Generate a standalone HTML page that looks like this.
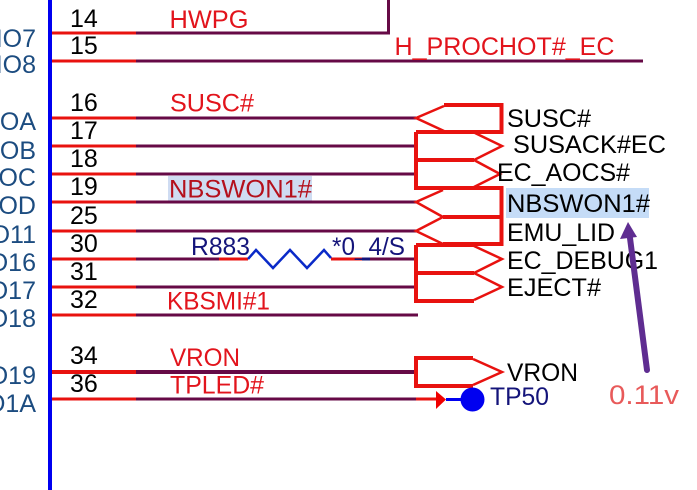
<!DOCTYPE html>
<html>
<head>
<meta charset="utf-8">
<style>
html,body{margin:0;padding:0;background:#fff}
svg{display:block}
text{font-family:"Liberation Sans",sans-serif;font-size:25px}
.n{fill:#000}
.r{fill:#e2141c}
.k{fill:#000}
.l{fill:#1c4c80}
.b{fill:#14147a}
</style>
</head>
<body>
<svg width="697" height="490" viewBox="0 0 697 490" xmlns="http://www.w3.org/2000/svg">
<rect width="697" height="490" fill="#fff"/>
<!-- highlights -->
<rect x="168" y="176" width="144" height="27" fill="#cfdcf2"/>
<rect x="506" y="188" width="143" height="30" fill="#c5dcf7"/>

<!-- purple wires -->
<g fill="none" stroke="#660a46" stroke-width="3">
<path d="M136 33H388.500V0"/>
<path d="M136 61H643"/>
<path d="M136 118H416"/>
<path d="M136 146H416"/>
<path d="M136 174H416"/>
<path d="M136 202H416"/>
<path d="M136 231H416"/>
<path d="M136 259H219"/>
<path d="M370 259H416"/>
<path d="M136 287H416"/>
<path d="M136 315H418"/>
<path d="M136 372H416" stroke-width="4"/>
<path d="M136 399H416"/>
</g>
<!-- red pin stubs -->
<g fill="none" stroke="#e8120f" stroke-width="3">
<path d="M48 33H136M48 61H136M48 118H136M48 146H136M48 174H136M48 202H136M48 231H136"/>
<path d="M48 259H136M48 287H136M48 315H136M48 399H136"/>
<path d="M48 372H136" stroke-width="4"/>
<path d="M219 259H248M331 259H362M416 399H436"/>
</g>
<path d="M362 259H370" stroke="#14147a" stroke-width="3"/>
<!-- bus -->
<rect x="48" y="0" width="4" height="490" fill="#0000f0"/>

<!-- resistor -->
<path d="M248 259L256 250L273 268L290 250L307 268L324 250L331 258" fill="none" stroke="#0a2ac8" stroke-width="2.500"/>

<!-- off-page connectors: thin diagonals -->
<g fill="none" stroke="#e8120f" stroke-width="2.500">
<path d="M444 106L416 118L444 131"/>
<path d="M475 133L502 146L474 160L500 174L474 187"/>
<path d="M443 190L416 202L443 217L416 231L443 244"/>
<path d="M474 246L502 259L474 273L502 287L474 300"/>
<path d="M473 359L502 372L473 385"/>
</g>
<!-- off-page connectors: thick edges -->
<g fill="none" stroke="#e8120f" stroke-width="4">
<path d="M444 105H501.500V132H416"/>
<path d="M416 132V188H501.500V244H443"/>
<path d="M416 160H474"/>
<path d="M443 217H501.500"/>
<path d="M416 245H474M416 245V301H474M416 273H474"/>
<path d="M473 358H416V386H473"/>
</g>

<!-- test point -->
<path d="M436 391V409L446 399.500Z" fill="#f00000"/>
<path d="M446 399.500H462" stroke="#0000f0" stroke-width="3"/>
<circle cx="472.500" cy="399.500" r="12" fill="#0000f0"/>

<!-- left labels -->
<g class="l" text-anchor="end">
<text x="36" y="47" class="l">GPIO7</text>
<text x="36" y="73" class="l">GPIO8</text>
<text x="36" y="130" class="l">GPIOA</text>
<text x="36" y="159" class="l">GPIOB</text>
<text x="36" y="186" class="l">GPIOC</text>
<text x="36" y="214" class="l">GPIOD</text>
<text x="36" y="243" class="l">GPIO11</text>
<text x="36" y="271" class="l">GPIO16</text>
<text x="36" y="299" class="l">GPIO17</text>
<text x="36" y="327" class="l">GPIO18</text>
<text x="36" y="384" class="l">GPIO19</text>
<text x="36" y="412" class="l">GPIO1A</text>
</g>

<!-- pin numbers -->
<text class="n" x="70" y="27">14</text>
<text class="n" x="70" y="54">15</text>
<text class="n" x="70" y="111">16</text>
<text class="n" x="70" y="139">17</text>
<text class="n" x="70" y="167">18</text>
<text class="n" x="70" y="195">19</text>
<text class="n" x="70" y="224">25</text>
<text class="n" x="70" y="252">30</text>
<text class="n" x="70" y="280">31</text>
<text class="n" x="70" y="308">32</text>
<text class="n" x="70" y="364">34</text>
<text class="n" x="70" y="392">36</text>

<!-- red net labels -->
<text class="r" x="169.500" y="28" textLength="79" lengthAdjust="spacingAndGlyphs">HWPG</text>
<text class="r" x="394.500" y="55" textLength="220" lengthAdjust="spacingAndGlyphs">H_PROCHOT#_EC</text>
<text class="r" x="170" y="111.500" textLength="84" lengthAdjust="spacingAndGlyphs">SUSC#</text>
<text class="r" x="169" y="197.500" textLength="143" lengthAdjust="spacingAndGlyphs" style="fill:#b4101c">NBSWON1#</text>
<text class="r" x="167" y="309.500" textLength="103" lengthAdjust="spacingAndGlyphs">KBSMI#1</text>
<text class="r" x="170" y="366" textLength="70" lengthAdjust="spacingAndGlyphs">VRON</text>
<text class="r" x="170" y="393.500" textLength="94" lengthAdjust="spacingAndGlyphs">TPLED#</text>

<!-- navy labels -->
<text class="b" x="191" y="255" textLength="59" lengthAdjust="spacingAndGlyphs">R883</text>
<text class="b" x="332" y="255" textLength="73" lengthAdjust="spacingAndGlyphs">*0_4/S</text>
<text class="b" x="490" y="405" textLength="59" lengthAdjust="spacingAndGlyphs">TP50</text>

<!-- right labels -->
<text class="k" x="507" y="127" textLength="84" lengthAdjust="spacingAndGlyphs">SUSC#</text>
<text class="k" x="513" y="153" textLength="153" lengthAdjust="spacingAndGlyphs">SUSACK#EC</text>
<text class="k" x="497" y="181" textLength="133" lengthAdjust="spacingAndGlyphs">EC_AOCS#</text>
<text class="k" x="507" y="212" textLength="143" lengthAdjust="spacingAndGlyphs">NBSWON1#</text>
<text class="k" x="507" y="241" textLength="108" lengthAdjust="spacingAndGlyphs">EMU_LID</text>
<text class="k" x="507" y="269" textLength="151" lengthAdjust="spacingAndGlyphs">EC_DEBUG1</text>
<text class="k" x="507" y="296" textLength="94" lengthAdjust="spacingAndGlyphs">EJECT#</text>
<text class="k" x="507" y="381" textLength="71" lengthAdjust="spacingAndGlyphs">VRON</text>

<!-- annotation arrow -->
<path d="M647 370L630 238" stroke="#5f2d91" stroke-width="6" fill="none" stroke-linecap="round"/>
<path d="M628 222L620 239L637 237Z" fill="#5f2d91"/>
<text x="609" y="404" textLength="70" lengthAdjust="spacingAndGlyphs" style="font-size:27px;fill:#e85a5a">0.11v</text>
</svg>
</body>
</html>
